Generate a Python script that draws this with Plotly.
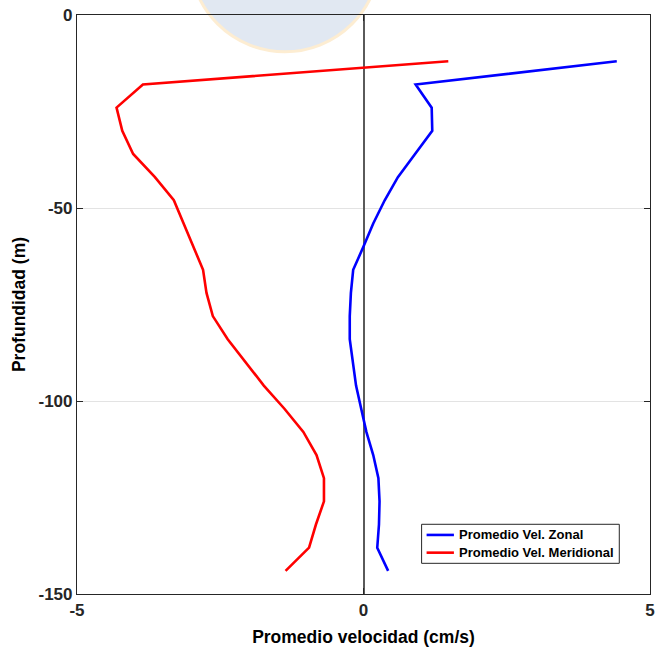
import plotly.graph_objects as go

# Depth levels (m) and mean velocity profiles (cm/s)
profundidad = [-12, -18, -24, -30, -36, -42, -48, -54, -60, -66, -72, -78,
               -84, -90, -96, -102, -108, -114, -120, -126, -132, -138, -144]
vel_zonal = [4.42, 0.91, 1.19, 1.20, 0.90, 0.60, 0.37, 0.17, 0.00, -0.18, -0.22, -0.24,
             -0.24, -0.18, -0.13, -0.04, 0.05, 0.17, 0.26, 0.28, 0.27, 0.24, 0.43]
vel_meridional = [1.48, -3.85, -4.31, -4.21, -4.02, -3.64, -3.31, -3.14, -2.97, -2.80, -2.74, -2.63,
                  -2.37, -2.06, -1.74, -1.38, -1.05, -0.82, -0.69, -0.69, -0.83, -0.95, -1.36]

series_names = ["Promedio Vel. Zonal", "Promedio Vel. Meridional"]
series_colors = ["#0000ff", "#ff0000"]

x_ticks = [-5, 0, 5]
y_ticks = [0, -50, -100, -150]

FONT = "Liberation Sans, Arial, sans-serif"
INK = "#262626"

fig = go.Figure()
for vals, name, color in zip([vel_zonal, vel_meridional], series_names, series_colors):
    fig.add_trace(go.Scatter(x=vals, y=profundidad, mode="lines", name=name,
                             line=dict(color=color, width=2.6), showlegend=False))

# faint seal emblem behind the top of the axes
fig.add_shape(type="circle", xref="paper", yref="paper",
              x0=0.1968, x1=0.5286, y0=0.9365, y1=1.265, layer="below",
              fillcolor="#c5d2e6", opacity=0.5, line=dict(color="#fcdca6", width=3))

# boxed legend in the lower right corner
fig.add_shape(type="rect", xref="paper", yref="paper",
              x0=0.6014, x1=0.9464, y0=0.0530, y1=0.1204,
              fillcolor="white", line=dict(color=INK, width=1))
for i, (name, color) in enumerate(zip(series_names, series_colors)):
    yy = 0.1020 - i * 0.0306
    fig.add_shape(type="line", xref="paper", yref="paper",
                  x0=0.6101, x1=0.6578, y0=yy, y1=yy,
                  line=dict(color=color, width=2.6))
    fig.add_annotation(xref="paper", yref="paper", x=0.6625, y=yy,
                       xanchor="left", yanchor="middle", showarrow=False,
                       text=f"<b>{name}</b>",
                       font=dict(family=FONT, size=13, color="#000000"))

axis_common = dict(showline=True, linecolor=INK, linewidth=1.2, mirror="ticks",
                   ticks="inside", ticklen=6, tickcolor=INK, tickwidth=1.2,
                   tickfont=dict(family=FONT, size=17, color=INK, weight="bold"))

fig.update_xaxes(range=[-5, 5], tickvals=x_ticks, ticktext=[str(v) for v in x_ticks],
                 showgrid=False, zeroline=True, zerolinecolor="#5a5a5a", zerolinewidth=1.6,
                 automargin=False,
                 title=dict(text="<b>Promedio velocidad (cm/s)</b>", standoff=12,
                            font=dict(family=FONT, size=17.5, color="#000000")),
                 **axis_common)
fig.update_yaxes(range=[-150, 0], tickvals=y_ticks, ticktext=[str(v) for v in y_ticks],
                 showgrid=True, gridcolor="#e3e3e3", gridwidth=1, zeroline=False,
                 automargin=False,
                 title=dict(text="<b>Profundidad (m)</b>", standoff=8,
                            font=dict(family=FONT, size=17.5, color="#000000")),
                 **axis_common)

fig.update_layout(
    width=657, height=651,
    margin=dict(l=77, r=7, t=15, b=57),
    paper_bgcolor="white", plot_bgcolor="rgba(0,0,0,0)",
    showlegend=False,
)

fig.write_html("out.html")
